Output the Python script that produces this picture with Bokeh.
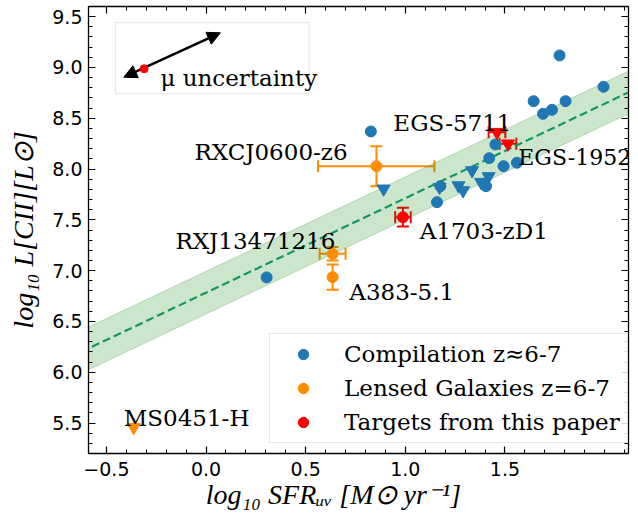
import numpy as np
from bokeh.plotting import figure
from bokeh.models import (ColumnDataSource, Whisker, TeeHead, Arrow, NormalHead, BoxAnnotation,
                          FixedTicker, LinearAxis, Legend, LegendItem,
                          CustomJSTickFormatter, Range1d)
from bokeh.core.properties import value
from bokeh.embed import file_html
from bokeh.resources import INLINE

# ---------------- data ----------------
# Compilation z~6-7 : detections
comp_x = [0.827, 1.774, 1.995, 1.644, 1.691, 1.736, 1.804, 1.452, 1.421, 1.493, 1.560, 1.176, 1.159, 1.405, 0.304]
comp_y = [8.370, 9.118, 8.810, 8.668, 8.544, 8.583, 8.668, 8.242, 8.107, 8.028, 8.062, 7.831, 7.674, 7.831, 6.933]
# Compilation z~6-7 : upper limits
comp_ul_x = [0.891, 1.172, 1.267, 1.290, 1.335, 1.418, 1.380]
comp_ul_y = [7.806, 7.822, 7.838, 7.789, 7.986, 7.927, 7.871]

# Lensed galaxies z=6-7
lens_names = ["RXCJ0600-z6", "RXJ13471216", "A383-5.1"]
lens_x = [0.855, 0.635, 0.635]
lens_y = [8.028, 7.166, 6.936]
lens_xerr_lo = [0.293, 0.065, 0.0]
lens_xerr_hi = [0.291, 0.065, 0.0]
lens_yerr = [0.197, 0.066, 0.125]
lens_ul_names = ["MS0451-H"]
lens_ul_x = [-0.363]
lens_ul_y = [5.459]

# Targets from this paper
tgt_names = ["A1703-zD1"]
tgt_x = [0.988]
tgt_y = [7.526]
tgt_xerr = [0.039]
tgt_yerr = [0.092]
tgt_ul_names = ["EGS-5711", "EGS-1952"]
tgt_ul_x = [1.460, 1.515]
tgt_ul_y = [8.363, 8.249]
tgt_ul_xerr = [0.042, 0.042]

# relation (dashed line) and its scatter band
rel_slope = 0.93
rel_intercept = 6.783
rel_scatter = 0.21

# annotation labels
ann_text = ["EGS-5711", "EGS-1952", "RXCJ0600-z6", "A1703-zD1", "RXJ13471216", "A383-5.1", "MS0451-H"]
ann_x = [0.940, 1.567, 0.710, 1.072, -0.154, 0.719, -0.413]
ann_y = [8.452, 8.117, 8.166, 7.388, 7.290, 6.788, 5.548]
ann_align = ["left", "left", "right", "left", "left", "left", "left"]
ann_size = ["23px", "22px", "23px", "23px", "23px", "23px", "23px"]

# magnification-uncertainty inset
inset_box = dict(left=-0.455, right=0.518, bottom=8.744, top=9.443)
mu_arrow_x = [-0.413, 0.072]
mu_arrow_y = [8.904, 9.341]
mu_dot_x = [-0.311]
mu_dot_y = [8.987]
mu_text_x = [-0.229]
mu_text_y = [8.893]

# axes
x_lim = (-0.59, 2.12)
y_lim = (5.2, 9.6)
x_major = [-0.5, 0.0, 0.5, 1.0, 1.5]
y_major = [5.5, 6.0, 6.5, 7.0, 7.5, 8.0, 8.5, 9.0, 9.5]
x_minor = [round(-0.5 + 0.1 * i, 2) for i in range(-1, 27)]
y_minor = [round(5.2 + 0.1 * i, 2) for i in range(0, 45)]

x_title = "log\u2081\u2080 SFR\u1d64\u1d65 [M\u2299 yr\u207b\u00b9]"
y_title = "log\u2081\u2080 L[CII][L\u2299]"

BLUE = "#1f77b4"
ORANGE = "#ff8c00"
RED = "#ff0000"
LINE_GREEN = "#13966a"
SERIF = "DejaVu Serif"
FS = "23px"

# ---------------- figure ----------------
p = figure(width=630, height=516, output_backend="svg", toolbar_location=None,
           x_range=Range1d(*x_lim), y_range=Range1d(*y_lim),
           min_border_left=88, min_border_right=2, min_border_top=6, min_border_bottom=63)
p.outline_line_color = None
p.xgrid.visible = False
p.ygrid.visible = False
p.background_fill_color = "white"

bottom_ax = p.below[0]
left_ax = p.left[0]

# relation band + line
xx = np.array([x_lim[0] - 0.2, x_lim[1] + 0.2])
yy = rel_intercept + rel_slope * xx
p.varea(x=xx, y1=yy - rel_scatter, y2=yy + rel_scatter, fill_color="green", fill_alpha=0.2)
p.line(xx, yy - rel_scatter, line_color="green", line_alpha=0.22, line_width=1)
p.line(xx, yy + rel_scatter, line_color="green", line_alpha=0.22, line_width=1)
p.line(xx, yy, line_color=LINE_GREEN, line_width=2.2, line_dash="8 4")

# compilation
r_comp = p.scatter(comp_x, comp_y, size=11, marker="circle", fill_color=BLUE, line_color=BLUE)
p.scatter(comp_ul_x, comp_ul_y, size=13, marker="inverted_triangle", fill_color=BLUE, line_color=BLUE)

# lensed galaxies with error bars
lens_src = ColumnDataSource(dict(
    x=lens_x, y=lens_y,
    ylo=[a - b for a, b in zip(lens_y, lens_yerr)],
    yhi=[a + b for a, b in zip(lens_y, lens_yerr)],
))
xerr_mask = [i for i, (a, b) in enumerate(zip(lens_xerr_lo, lens_xerr_hi)) if a + b > 0]
lens_xsrc = ColumnDataSource(dict(
    y=[lens_y[i] for i in xerr_mask],
    xlo=[lens_x[i] - lens_xerr_lo[i] for i in xerr_mask],
    xhi=[lens_x[i] + lens_xerr_hi[i] for i in xerr_mask],
))


def tee(color):
    return TeeHead(size=12, line_color=color, line_width=2)


p.add_layout(Whisker(source=lens_xsrc, base="y", lower="xlo", upper="xhi", dimension="width",
                     line_color=ORANGE, line_width=2, upper_head=tee(ORANGE), lower_head=tee(ORANGE)))
p.add_layout(Whisker(source=lens_src, base="x", lower="ylo", upper="yhi", dimension="height",
                     line_color=ORANGE, line_width=2, upper_head=tee(ORANGE), lower_head=tee(ORANGE)))
r_lens = p.scatter("x", "y", source=lens_src, size=11, marker="circle", fill_color=ORANGE, line_color=ORANGE)
p.scatter(lens_ul_x, lens_ul_y, size=13, marker="inverted_triangle", fill_color=ORANGE, line_color=ORANGE)

# targets
tgt_src = ColumnDataSource(dict(
    x=tgt_x, y=tgt_y,
    xlo=[a - b for a, b in zip(tgt_x, tgt_xerr)], xhi=[a + b for a, b in zip(tgt_x, tgt_xerr)],
    ylo=[a - b for a, b in zip(tgt_y, tgt_yerr)], yhi=[a + b for a, b in zip(tgt_y, tgt_yerr)],
))
tgt_ul_src = ColumnDataSource(dict(
    x=tgt_ul_x, y=tgt_ul_y,
    xlo=[a - b for a, b in zip(tgt_ul_x, tgt_ul_xerr)], xhi=[a + b for a, b in zip(tgt_ul_x, tgt_ul_xerr)],
))
for src in (tgt_src, tgt_ul_src):
    p.add_layout(Whisker(source=src, base="y", lower="xlo", upper="xhi", dimension="width",
                         line_color=RED, line_width=2, upper_head=tee(RED), lower_head=tee(RED)))
p.add_layout(Whisker(source=tgt_src, base="x", lower="ylo", upper="yhi", dimension="height",
                     line_color=RED, line_width=2, upper_head=tee(RED), lower_head=tee(RED)))
r_tgt = p.scatter("x", "y", source=tgt_src, size=11, marker="circle", fill_color=RED, line_color=RED)
p.scatter("x", "y", source=tgt_ul_src, size=13, marker="inverted_triangle", fill_color=RED, line_color=RED)

# annotation labels
ann_src = ColumnDataSource(dict(x=ann_x, y=ann_y, text=ann_text, align=ann_align, size=ann_size))
p.text(x="x", y="y", text="text", text_align="align", text_font_size="size", source=ann_src,
       text_baseline="alphabetic", text_font=value(SERIF), text_color="black")

# inset: mu uncertainty
p.add_layout(BoxAnnotation(level="underlay", fill_color="white", fill_alpha=1.0,
                           line_color="#bdbdbd", line_width=1.5, **inset_box))
p.add_layout(Arrow(start=NormalHead(size=13, fill_color="black", line_color="black"),
                   end=NormalHead(size=13, fill_color="black", line_color="black"),
                   x_start=mu_arrow_x[0], y_start=mu_arrow_y[0],
                   x_end=mu_arrow_x[1], y_end=mu_arrow_y[1],
                   line_color="black", line_width=2.5))
p.scatter(mu_dot_x, mu_dot_y, size=8, marker="circle", fill_color=RED, line_color=RED, level="overlay")
p.text(x=mu_text_x, y=mu_text_y, text=["\u03bc uncertainty"], text_baseline="alphabetic",
       text_font=value(SERIF), text_font_size=value(FS), text_color="black")

# legend
legend = Legend(items=[LegendItem(label="Compilation z\u22486-7", renderers=[r_comp]),
                       LegendItem(label="Lensed Galaxies z=6-7", renderers=[r_lens]),
                       LegendItem(label="Targets from this paper", renderers=[r_tgt])],
                location=(181, 10), orientation="vertical",
                label_text_font=SERIF, label_text_font_size=FS, label_text_color="black",
                glyph_width=52, glyph_height=26, label_height=26, label_standoff=15,
                spacing=8, padding=7, margin=0,
                border_line_color="#cccccc", border_line_width=1.2,
                background_fill_color="white", background_fill_alpha=0.85)
p.add_layout(legend, "center")

# axes
top_ax = LinearAxis()
right_ax = LinearAxis()
p.add_layout(top_ax, "above")
p.add_layout(right_ax, "right")

for ax, major, minor in ((bottom_ax, x_major, x_minor), (top_ax, x_major, x_minor),
                         (left_ax, y_major, y_minor), (right_ax, y_major, y_minor)):
    ax.ticker = FixedTicker(ticks=major, minor_ticks=[m for m in minor if all(abs(m - t) > 1e-6 for t in major)])
    ax.major_tick_in = 7
    ax.major_tick_out = 0
    ax.minor_tick_in = 4
    ax.minor_tick_out = 0
    ax.axis_line_color = "black"
    ax.axis_line_width = 1.3
    ax.major_tick_line_color = "black"
    ax.minor_tick_line_color = "black"
    ax.major_tick_line_width = 1.2
    ax.minor_tick_line_width = 1.0
    ax.major_label_text_font = "DejaVu Sans"
    ax.major_label_text_font_size = "19px"
    ax.major_label_text_color = "black"

for ax in (top_ax, right_ax):
    ax.formatter = CustomJSTickFormatter(code="return '';")
    ax.major_label_standoff = 0

fmt = "return tick.toFixed(1).replace('-', '\\u2212');"
for ax in (bottom_ax, left_ax):
    ax.formatter = CustomJSTickFormatter(code=fmt)
    ax.axis_label_text_font = "Liberation Serif"
    ax.axis_label_text_font_style = "italic"
    ax.axis_label_text_font_size = "28px"
    ax.axis_label_text_color = "black"

left_ax.major_label_standoff = 6
left_ax.axis_label = y_title
left_ax.axis_label_standoff = 10

bottom_ax.major_label_standoff = 8
# trailing em-spaces shift the centred title left, as in the reference
bottom_ax.axis_label = x_title + "\u2003\u2003"
bottom_ax.axis_label_standoff = 0

open("out.html", "w").write(file_html(p, INLINE))
